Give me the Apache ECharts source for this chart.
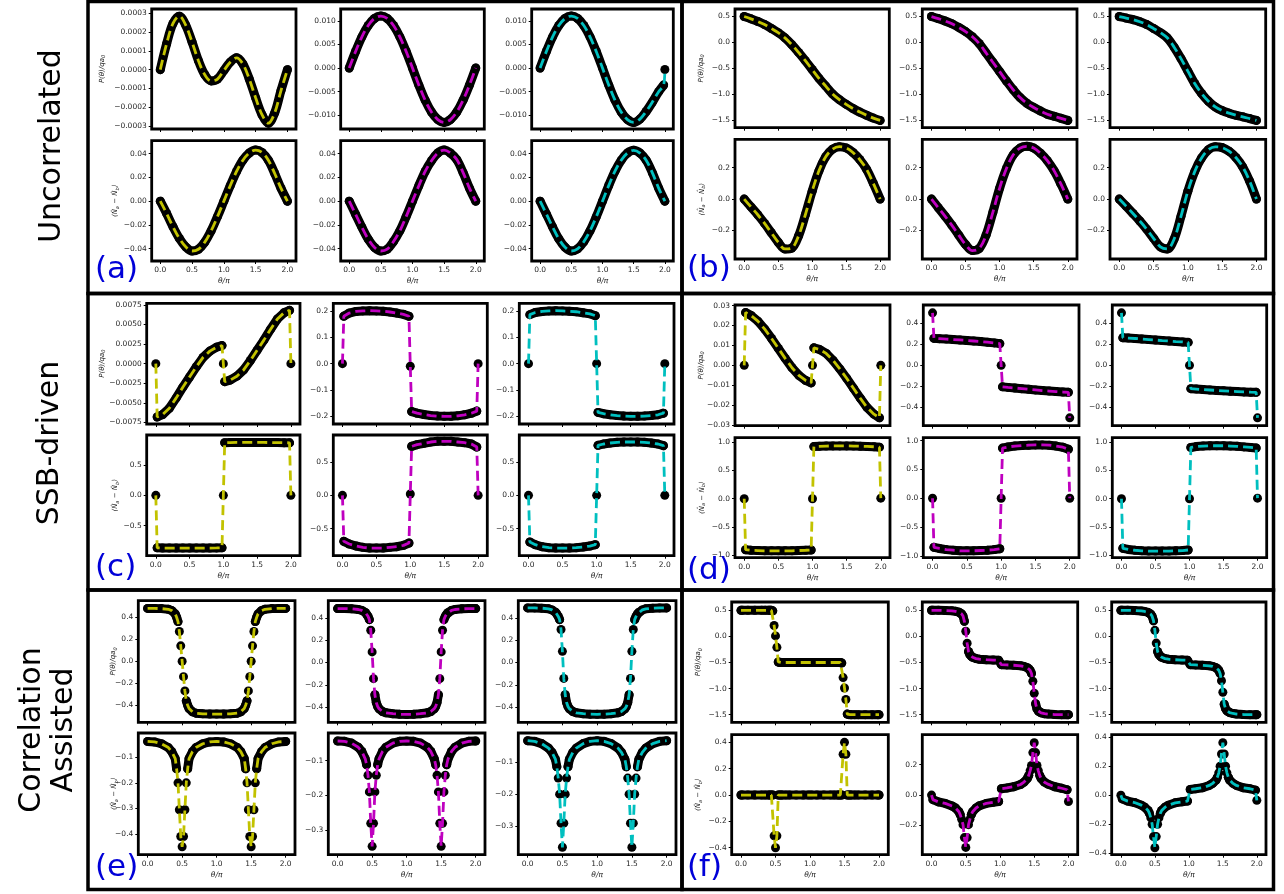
<!DOCTYPE html>
<html><head><meta charset="utf-8">
<script src="https://cdn.jsdelivr.net/npm/echarts@6/dist/echarts.min.js"></script>
<style>html,body{margin:0;padding:0;background:#fff}#c{width:1284px;height:894px}</style>
</head><body><div id="c"></div>
<script>
// ---------------- theta grids ----------------
const TH_S = [0,0.1,0.2,0.3,0.4,0.5,0.6,0.7,0.8,0.9,1,1.1,1.2,1.3,1.4,1.5,1.6,1.7,1.8,1.9,2];
const TH_A3P = [0,0.1,0.2,0.3,0.4,0.5,0.6,0.7,0.8,0.9,1,1.1,1.2,1.3,1.4,1.5,1.6,1.7,1.8,1.9,1.98,2];
const TH_J = [0,0.02,0.1,0.2,0.3,0.4,0.5,0.6,0.7,0.8,0.9,0.98,1,1.02,1.1,1.2,1.3,1.4,1.5,1.6,1.7,1.8,1.9,1.98,2];
const TH_E = [0,0.1,0.2,0.3,0.35,0.4,0.42,0.44,0.46,0.48,0.5,0.52,0.54,0.56,0.58,0.6,0.65,0.7,0.8,0.9,1,
              1.1,1.2,1.3,1.35,1.4,1.42,1.44,1.46,1.48,1.5,1.52,1.54,1.56,1.58,1.6,1.65,1.7,1.8,1.9,2];
const TH_F = [0,0.02,0.1,0.2,0.3,0.35,0.4,0.42,0.44,0.46,0.48,0.5,0.52,0.54,0.56,0.58,0.6,0.65,0.7,0.8,0.9,0.98,
              1.02,1.1,1.2,1.3,1.35,1.4,1.42,1.44,1.46,1.48,1.5,1.52,1.54,1.56,1.58,1.6,1.65,1.7,1.8,1.9,1.98,2];

// ---------------- (a) Uncorrelated, left ----------------
const A_P_Y = [0,0.000138,0.000246,0.000285,0.000237,0.000147,0.000048,-0.000027,-0.00006,-0.00005,-0.000005,0.00004,0.000063,0.00003,-0.00005,-0.00015,-0.00024,-0.000285,-0.00023,-0.00011,0];
const A_P_M = [0,0.0035,0.0066,0.009,0.0105,0.011,0.0105,0.009,0.0066,0.0035,0,-0.0036,-0.0068,-0.0093,-0.0109,-0.0115,-0.0109,-0.0093,-0.0068,-0.0036,0];
const A_P_C = [0,0.0035,0.0066,0.009,0.0105,0.011,0.0105,0.009,0.0066,0.0035,0,-0.0036,-0.0068,-0.0093,-0.0109,-0.0115,-0.0108,-0.0092,-0.0072,-0.005,-0.0036,-0.0003];
const A_N_Y = [0,-0.0104,-0.0216,-0.0314,-0.0385,-0.042,-0.0405,-0.0345,-0.025,-0.013,0,0.013,0.025,0.0345,0.0405,0.043,0.041,0.0345,0.0233,0.0107,0];
const A_N_M = [0,-0.011,-0.022,-0.032,-0.039,-0.042,-0.0405,-0.034,-0.025,-0.013,0,0.013,0.025,0.034,0.0405,0.043,0.0405,0.035,0.024,0.011,0];
const A_N_C = [0,-0.0108,-0.0218,-0.0318,-0.0388,-0.042,-0.0402,-0.0342,-0.025,-0.0132,0,0.0132,0.0252,0.0345,0.0405,0.0428,0.0405,0.0345,0.0238,0.011,0];

// ---------------- (b) Uncorrelated, right ----------------
const B_P_Y = [0.5,0.455,0.405,0.345,0.27,0.19,0.09,-0.04,-0.19,-0.35,-0.52,-0.69,-0.84,-0.99,-1.1,-1.19,-1.27,-1.34,-1.4,-1.455,-1.5];
const B_P_M = [0.5,0.46,0.415,0.36,0.29,0.21,0.11,-0.02,-0.2,-0.38,-0.56,-0.74,-0.91,-1.06,-1.17,-1.25,-1.32,-1.38,-1.42,-1.46,-1.5];
const B_P_C = [0.5,0.47,0.44,0.4,0.345,0.27,0.19,0.09,-0.09,-0.31,-0.55,-0.79,-0.98,-1.13,-1.24,-1.31,-1.36,-1.4,-1.43,-1.465,-1.5];
const B_N_Y = [0,-0.05,-0.1,-0.155,-0.215,-0.275,-0.318,-0.312,-0.235,-0.1,0.05,0.18,0.27,0.318,0.334,0.326,0.297,0.252,0.19,0.1,0];
const B_N_M = [0,-0.055,-0.11,-0.168,-0.23,-0.29,-0.328,-0.315,-0.23,-0.085,0.07,0.195,0.282,0.325,0.336,0.325,0.292,0.245,0.18,0.095,0];
const B_N_C = [0,-0.045,-0.092,-0.14,-0.192,-0.25,-0.305,-0.318,-0.255,-0.11,0.05,0.175,0.262,0.315,0.333,0.328,0.305,0.265,0.205,0.115,0];

// ---------------- (c) SSB-driven, left ----------------
const C_P_Y = [0,-0.0068,-0.0065,-0.0057,-0.0044,-0.003,-0.0017,-0.0004,0.0008,0.0016,0.0021,0.0023,0,-0.0023,-0.0021,-0.0016,-0.0008,0.0004,0.0017,0.003,0.0044,0.0057,0.0065,0.0068,0];
const C_P_M = [0,0.18,0.192,0.198,0.2,0.201,0.2,0.199,0.196,0.192,0.187,0.18,-0.01,-0.182,-0.188,-0.193,-0.197,-0.199,-0.2,-0.2,-0.198,-0.194,-0.188,-0.18,0];
const C_P_C = [0,0.186,0.194,0.198,0.2,0.201,0.2,0.199,0.197,0.193,0.189,0.182,0,-0.185,-0.19,-0.194,-0.197,-0.199,-0.2,-0.2,-0.199,-0.197,-0.194,-0.188,0];
const C_N_Y = [0,-0.865,-0.868,-0.87,-0.87,-0.87,-0.87,-0.87,-0.87,-0.869,-0.867,-0.865,0,0.868,0.87,0.872,0.872,0.872,0.872,0.872,0.871,0.87,0.868,0.866,0];
const C_N_M = [0,-0.69,-0.73,-0.76,-0.78,-0.79,-0.79,-0.79,-0.78,-0.77,-0.75,-0.715,0.02,0.735,0.76,0.78,0.8,0.81,0.81,0.81,0.8,0.79,0.77,0.725,0];
const C_N_C = [0,-0.7,-0.74,-0.77,-0.785,-0.79,-0.79,-0.79,-0.785,-0.775,-0.76,-0.74,0,0.75,0.77,0.785,0.795,0.8,0.8,0.8,0.795,0.785,0.77,0.745,0];

// ---------------- (d) SSB-driven, right ----------------
const D_P_Y = [0,0.0265,0.025,0.0222,0.0182,0.0135,0.0085,0.0035,-0.0012,-0.005,-0.0076,-0.0088,0,0.0088,0.008,0.006,0.0025,-0.0018,-0.0065,-0.0115,-0.0165,-0.0212,-0.0245,-0.0263,0];
const D_P_M = [0.5,0.257,0.254,0.25,0.246,0.242,0.237,0.232,0.227,0.221,0.214,0.207,0,-0.205,-0.21,-0.216,-0.222,-0.228,-0.234,-0.24,-0.245,-0.25,-0.254,-0.257,-0.5];
const D_P_C = [0.5,0.263,0.26,0.256,0.251,0.246,0.241,0.236,0.232,0.227,0.223,0.219,0,-0.222,-0.226,-0.231,-0.235,-0.239,-0.243,-0.247,-0.25,-0.253,-0.256,-0.257,-0.5];
const D_N_Y = [0,-0.905,-0.915,-0.92,-0.925,-0.925,-0.925,-0.925,-0.925,-0.92,-0.915,-0.91,0,0.925,0.93,0.935,0.937,0.937,0.937,0.935,0.932,0.928,0.922,0.915,0.01];
const D_N_M = [0,-0.85,-0.87,-0.89,-0.9,-0.91,-0.91,-0.91,-0.905,-0.9,-0.89,-0.875,0,0.87,0.89,0.905,0.915,0.92,0.925,0.925,0.92,0.905,0.885,0.85,0];
const D_N_C = [0,-0.88,-0.9,-0.915,-0.925,-0.93,-0.93,-0.93,-0.93,-0.925,-0.92,-0.91,0,0.91,0.925,0.935,0.94,0.94,0.94,0.935,0.93,0.92,0.91,0.9,0.01];

// ---------------- (e) Correlation assisted, left ----------------
const E_P_Y = [0.48,0.48,0.478,0.472,0.46,0.43,0.4,0.36,0.27,0.14,0,-0.14,-0.27,-0.36,-0.4,-0.43,-0.46,-0.472,-0.478,-0.48,-0.48,
               -0.48,-0.478,-0.472,-0.46,-0.43,-0.4,-0.36,-0.27,-0.14,0,0.14,0.27,0.36,0.4,0.43,0.46,0.472,0.478,0.48,0.48];
const E_P_M = [0.484,0.484,0.482,0.476,0.468,0.45,0.435,0.415,0.385,0.29,0.095,-0.145,-0.29,-0.36,-0.395,-0.415,-0.44,-0.452,-0.46,-0.465,-0.466,
               -0.465,-0.46,-0.452,-0.44,-0.415,-0.395,-0.36,-0.29,-0.145,0.095,0.29,0.385,0.415,0.435,0.45,0.468,0.476,0.482,0.484,0.484];
const E_P_C = [0.49,0.49,0.488,0.482,0.472,0.452,0.436,0.414,0.385,0.296,0.1,-0.143,-0.29,-0.36,-0.395,-0.415,-0.44,-0.452,-0.46,-0.464,-0.465,
               -0.464,-0.46,-0.452,-0.44,-0.415,-0.395,-0.36,-0.29,-0.143,0.1,0.296,0.385,0.414,0.436,0.452,0.472,0.482,0.488,0.49,0.49];
const E_N_Y = [-0.038,-0.04,-0.047,-0.062,-0.078,-0.105,-0.145,-0.2,-0.305,-0.41,-0.45,-0.41,-0.305,-0.2,-0.145,-0.105,-0.078,-0.062,-0.047,-0.04,-0.038,
               -0.04,-0.047,-0.062,-0.078,-0.105,-0.145,-0.2,-0.305,-0.41,-0.45,-0.41,-0.305,-0.2,-0.145,-0.105,-0.078,-0.062,-0.047,-0.04,-0.038];
const E_N_M = [-0.044,-0.045,-0.05,-0.062,-0.074,-0.095,-0.112,-0.142,-0.19,-0.28,-0.346,-0.28,-0.19,-0.142,-0.112,-0.095,-0.074,-0.062,-0.05,-0.045,-0.044,
               -0.045,-0.05,-0.062,-0.074,-0.095,-0.112,-0.142,-0.19,-0.28,-0.346,-0.28,-0.19,-0.142,-0.112,-0.095,-0.074,-0.062,-0.05,-0.045,-0.044];
const E_N_C = [-0.034,-0.036,-0.043,-0.057,-0.07,-0.092,-0.115,-0.15,-0.2,-0.29,-0.365,-0.29,-0.2,-0.15,-0.115,-0.092,-0.07,-0.057,-0.043,-0.036,-0.034,
               -0.036,-0.043,-0.057,-0.07,-0.092,-0.115,-0.15,-0.2,-0.29,-0.365,-0.29,-0.2,-0.15,-0.115,-0.092,-0.07,-0.057,-0.043,-0.036,-0.034];

// ---------------- (f) Correlation assisted, right ----------------
const F_P_Y = [0.5,0.5,0.5,0.5,0.5,0.5,0.5,0.5,0.5,0.49,0.21,0.01,-0.21,-0.49,-0.5,-0.5,-0.5,-0.5,-0.5,-0.5,-0.5,-0.5,
               -0.5,-0.5,-0.5,-0.5,-0.5,-0.5,-0.5,-0.5,-0.51,-0.79,-0.99,-1.21,-1.49,-1.5,-1.5,-1.5,-1.5,-1.5,-1.5,-1.5,-1.5,-1.5];
const F_P_M = [0.5,0.5,0.5,0.498,0.49,0.482,0.465,0.45,0.43,0.39,0.29,0.1,-0.13,-0.29,-0.35,-0.38,-0.4,-0.425,-0.437,-0.447,-0.453,-0.458,
               -0.542,-0.547,-0.553,-0.563,-0.575,-0.6,-0.62,-0.65,-0.71,-0.86,-1.09,-1.29,-1.39,-1.43,-1.45,-1.465,-1.482,-1.49,-1.498,-1.5,-1.5,-1.5];
const F_P_C = [0.5,0.5,0.5,0.497,0.488,0.478,0.46,0.445,0.425,0.385,0.3,0.117,-0.128,-0.29,-0.35,-0.38,-0.4,-0.425,-0.437,-0.447,-0.453,-0.458,
               -0.542,-0.547,-0.553,-0.563,-0.575,-0.6,-0.62,-0.65,-0.71,-0.85,-1.07,-1.3,-1.385,-1.425,-1.445,-1.46,-1.478,-1.488,-1.497,-1.5,-1.5,-1.5];
const F_N_Y = [0,0,0,0,0,0,0,0,0,0,-0.31,-0.4,-0.31,0,0,0,0,0,0,0,0,0,
               0,0,0,0,0,0,0,0,0,0.31,0.4,0.31,0,0,0,0,0,0,0,0,0,0];
const F_N_M = [0,-0.03,-0.045,-0.055,-0.072,-0.085,-0.11,-0.13,-0.16,-0.195,-0.28,-0.345,-0.28,-0.195,-0.16,-0.13,-0.11,-0.085,-0.07,-0.055,-0.047,-0.042,
               0.042,0.047,0.055,0.07,0.085,0.11,0.13,0.16,0.195,0.28,0.345,0.28,0.195,0.16,0.13,0.11,0.085,0.072,0.055,0.045,0.035,-0.042];
const F_N_C = [0,-0.025,-0.04,-0.05,-0.068,-0.082,-0.105,-0.125,-0.155,-0.2,-0.285,-0.362,-0.285,-0.2,-0.155,-0.125,-0.105,-0.082,-0.068,-0.052,-0.045,-0.04,
               0.04,0.045,0.052,0.068,0.082,0.105,0.125,0.155,0.2,0.285,0.363,0.285,0.2,0.155,0.125,0.105,0.082,0.068,0.052,0.045,0.035,-0.035];

// ---------------- ticks ----------------
const X_TICKS = [0,0.5,1,1.5,2];
const YT_A_P1 = [-0.0003,-0.0002,-0.0001,0,0.0001,0.0002,0.0003];
const YT_A_P2 = [-0.01,-0.005,0,0.005,0.01];
const YT_A_N  = [-0.04,-0.02,0,0.02,0.04];
const YT_B_P  = [-1.5,-1,-0.5,0,0.5];
const YT_B_N  = [-0.2,0,0.2];
const YT_C_P1 = [-0.0075,-0.005,-0.0025,0,0.0025,0.005,0.0075];
const YT_C_P2 = [-0.2,-0.1,0,0.1,0.2];
const YT_C_N  = [-0.5,0,0.5];
const YT_D_P1 = [-0.03,-0.02,-0.01,0,0.01,0.02,0.03];
const YT_D_P2 = [-0.4,-0.2,0,0.2,0.4];
const YT_D_N  = [-1,-0.5,0,0.5,1];
const YT_E_P  = [-0.4,-0.2,0,0.2,0.4];
const YT_E_N1 = [-0.4,-0.3,-0.2,-0.1];
const YT_E_N2 = [-0.3,-0.2,-0.1];
const YT_F_P  = [-1.5,-1,-0.5,0,0.5];
const YT_F_N1 = [-0.4,-0.2,0,0.2,0.4];
const YT_F_N2 = [-0.2,0,0.2];

// ---------------- layout / style (not data) ----------------
const COL = {y:'#c2c200', m:'#bf00bf', c:'#00bfbf'};
const X_MIN = -0.135, X_MAX = 2.135;
const LAYOUT = {
  a:{cols:[[151.7,296],[340.7,484.3],[531.7,673.3]], rows:[[9,129],[140.7,261]], pName:101.7, nName:115},
  b:{cols:[[735,889.3],[922.3,1077],[1110,1265.7]], rows:[[9,127.7],[139.3,259]], pName:700.7, nName:701.7},
  c:{cols:[[146.7,300],[333.3,487.3],[519.3,674]], rows:[[303.3,424],[435,555.7]], pName:101.7, nName:115},
  d:{cols:[[735,890],[923.3,1079],[1112.3,1266.7]], rows:[[305,425.7],[437.7,557.7]], pName:700.7, nName:701.7},
  e:{cols:[[138.3,295],[328.3,485],[518.3,676]], rows:[[600.7,722.3],[733,854.7]], pName:113, nName:114},
  f:{cols:[[731.7,888.3],[922.3,1077.7],[1111.7,1266]], rows:[[602,722.3],[734.7,854.7]], pName:698, nName:698}
};
const BAND_ALL = [[0,2]];
const BAND_J = [[0.02,0.98],[1.02,1.98]];
const SUBPLOTS = [
  {p:'a',r:0,c:0,th:TH_S,v:A_P_Y,k:'y',lim:[-0.000316,0.000323],t:YT_A_P1,d:4,b:BAND_ALL,sm:true},
  {p:'a',r:0,c:1,th:TH_S,v:A_P_M,k:'m',lim:[-0.0129,0.0125],t:YT_A_P2,d:3,b:BAND_ALL,sm:true},
  {p:'a',r:0,c:2,th:TH_A3P,v:A_P_C,k:'c',lim:[-0.0129,0.0125],t:YT_A_P2,d:3,b:[[0,1.98]],sm:true},
  {p:'a',r:1,c:0,th:TH_S,v:A_N_Y,k:'y',lim:[-0.0504,0.0509],t:YT_A_N,d:2,b:BAND_ALL,sm:true},
  {p:'a',r:1,c:1,th:TH_S,v:A_N_M,k:'m',lim:[-0.0504,0.0509],t:YT_A_N,d:2,b:BAND_ALL,sm:true},
  {p:'a',r:1,c:2,th:TH_S,v:A_N_C,k:'c',lim:[-0.0504,0.0509],t:YT_A_N,d:2,b:BAND_ALL,sm:true},

  {p:'b',r:0,c:0,th:TH_S,v:B_P_Y,k:'y',lim:[-1.64,0.645],t:YT_B_P,d:1,b:BAND_ALL,sm:true},
  {p:'b',r:0,c:1,th:TH_S,v:B_P_M,k:'m',lim:[-1.64,0.645],t:YT_B_P,d:1,b:BAND_ALL,sm:true},
  {p:'b',r:0,c:2,th:TH_S,v:B_P_C,k:'c',lim:[-1.64,0.645],t:YT_B_P,d:1,b:BAND_ALL,sm:true},
  {p:'b',r:1,c:0,th:TH_S,v:B_N_Y,k:'y',lim:[-0.382,0.381],t:YT_B_N,d:1,b:BAND_ALL,sm:true},
  {p:'b',r:1,c:1,th:TH_S,v:B_N_M,k:'m',lim:[-0.382,0.381],t:YT_B_N,d:1,b:BAND_ALL,sm:true},
  {p:'b',r:1,c:2,th:TH_S,v:B_N_C,k:'c',lim:[-0.382,0.381],t:YT_B_N,d:1,b:BAND_ALL,sm:true},

  {p:'c',r:0,c:0,th:TH_J,v:C_P_Y,k:'y',lim:[-0.0077,0.0077],t:YT_C_P1,d:4,b:BAND_J},
  {p:'c',r:0,c:1,th:TH_J,v:C_P_M,k:'m',lim:[-0.229,0.229],t:YT_C_P2,d:1,b:BAND_J},
  {p:'c',r:0,c:2,th:TH_J,v:C_P_C,k:'c',lim:[-0.229,0.229],t:YT_C_P2,d:1,b:BAND_J},
  {p:'c',r:1,c:0,th:TH_J,v:C_N_Y,k:'y',lim:[-0.995,0.995],t:YT_C_N,d:1,b:BAND_J},
  {p:'c',r:1,c:1,th:TH_J,v:C_N_M,k:'m',lim:[-0.905,0.905],t:YT_C_N,d:1,b:BAND_J},
  {p:'c',r:1,c:2,th:TH_J,v:C_N_C,k:'c',lim:[-0.905,0.905],t:YT_C_N,d:1,b:BAND_J},

  {p:'d',r:0,c:0,th:TH_J,v:D_P_Y,k:'y',lim:[-0.0303,0.0303],t:YT_D_P1,d:2,b:BAND_J},
  {p:'d',r:0,c:1,th:TH_J,v:D_P_M,k:'m',lim:[-0.575,0.575],t:YT_D_P2,d:1,b:BAND_J},
  {p:'d',r:0,c:2,th:TH_J,v:D_P_C,k:'c',lim:[-0.575,0.575],t:YT_D_P2,d:1,b:BAND_J},
  {p:'d',r:1,c:0,th:TH_J,v:D_N_Y,k:'y',lim:[-1.047,1.083],t:YT_D_N,d:1,b:BAND_J},
  {p:'d',r:1,c:1,th:TH_J,v:D_N_M,k:'m',lim:[-1.03,1.05],t:YT_D_N,d:1,b:BAND_J},
  {p:'d',r:1,c:2,th:TH_J,v:D_N_C,k:'c',lim:[-1.047,1.083],t:YT_D_N,d:1,b:BAND_J},

  {p:'e',r:0,c:0,th:TH_E,v:E_P_Y,k:'y',lim:[-0.555,0.55],t:YT_E_P,d:1,b:[[0,0.44],[0.56,1.44],[1.56,2]]},
  {p:'e',r:0,c:1,th:TH_E,v:E_P_M,k:'m',lim:[-0.537,0.555],t:YT_E_P,d:1,b:[[0,0.46],[0.54,1.46],[1.54,2]]},
  {p:'e',r:0,c:2,th:TH_E,v:E_P_C,k:'c',lim:[-0.537,0.555],t:YT_E_P,d:1,b:[[0,0.46],[0.54,1.46],[1.54,2]]},
  {p:'e',r:1,c:0,th:TH_E,v:E_N_Y,k:'y',lim:[-0.481,-0.005],t:YT_E_N1,d:1,b:[[0,0.42],[0.58,1.42],[1.58,2]]},
  {p:'e',r:1,c:1,th:TH_E,v:E_N_M,k:'m',lim:[-0.37,-0.021],t:YT_E_N2,d:1,b:[[0,0.42],[0.58,1.42],[1.58,2]]},
  {p:'e',r:1,c:2,th:TH_E,v:E_N_C,k:'c',lim:[-0.388,-0.01],t:YT_E_N2,d:1,b:[[0,0.42],[0.58,1.42],[1.58,2]]},

  {p:'f',r:0,c:0,th:TH_F,v:F_P_Y,k:'y',lim:[-1.647,0.66],t:YT_F_P,d:1,b:[[0,0.46],[0.54,1.46],[1.54,2]]},
  {p:'f',r:0,c:1,th:TH_F,v:F_P_M,k:'m',lim:[-1.647,0.66],t:YT_F_P,d:1,b:[[0,0.48],[0.54,1.46],[1.52,2]]},
  {p:'f',r:0,c:2,th:TH_F,v:F_P_C,k:'c',lim:[-1.647,0.66],t:YT_F_P,d:1,b:[[0,0.48],[0.54,1.46],[1.52,2]]},
  {p:'f',r:1,c:0,th:TH_F,v:F_N_Y,k:'y',lim:[-0.453,0.458],t:YT_F_N1,d:1,b:[[0,0.46],[0.54,1.46],[1.54,2]]},
  {p:'f',r:1,c:1,th:TH_F,v:F_N_M,k:'m',lim:[-0.393,0.398],t:YT_F_N2,d:1,b:[[0.02,0.42],[0.58,0.98],[1.02,1.42],[1.58,1.98]]},
  {p:'f',r:1,c:2,th:TH_F,v:F_N_C,k:'c',lim:[-0.41,0.418],t:YT_F_N1,d:1,b:[[0.02,0.42],[0.58,0.98],[1.02,1.42],[1.58,1.98]]}
];

const FONT = 'DejaVu Sans';
const TICK_COLOR = '#262626';
function fmt(d){ return v => (v < -1e-12 ? '\u2212' : '') + Math.abs(v).toFixed(d); }

const grids = [], xAxes = [], yAxes = [], series = [], graphics = [];
SUBPLOTS.forEach((s, i) => {
  const L = LAYOUT[s.p];
  const [x0, x1] = L.cols[s.c], [y0, y1] = L.rows[s.r];
  grids.push({left:x0, top:y0, width:x1-x0, height:y1-y0, show:true, borderColor:'#000', borderWidth:2.8, backgroundColor:'#fff'});
  xAxes.push({
    type:'value', gridIndex:i, min:X_MIN, max:X_MAX,
    axisLine:{show:false, onZero:false}, splitLine:{show:false},
    axisTick:{show:true, inside:false, length:3, customValues:X_TICKS, lineStyle:{color:'#000', width:1}},
    axisLabel:{show:s.r===1, customValues:X_TICKS, formatter:fmt(1), fontSize:7.5, color:TICK_COLOR, margin:5, fontFamily:FONT}
  });
  yAxes.push({
    type:'value', gridIndex:i, min:s.lim[0], max:s.lim[1],
    axisLine:{show:false, onZero:false}, splitLine:{show:false},
    axisTick:{show:true, inside:false, length:3, customValues:s.t, lineStyle:{color:'#000', width:1}},
    axisLabel:{show:true, customValues:s.t, formatter:fmt(s.d), fontSize:7.5, color:TICK_COLOR, margin:5, fontFamily:FONT}
  });
  const pts = s.th.map((x, j) => [x, s.v[j]]);
  const sm = s.sm ? 0.35 : false;
  s.b.forEach(([b0, b1]) => {
    const seg = pts.filter(p => p[0] >= b0 - 1e-9 && p[0] <= b1 + 1e-9);
    series.push({type:'line', xAxisIndex:i, yAxisIndex:i, data:seg, symbol:'none', smooth:sm, silent:true,
      lineStyle:{color:'#000', width:9, cap:'round', join:'round', opacity:1}, z:2});
  });
  series.push({type:'scatter', xAxisIndex:i, yAxisIndex:i, data:pts, symbol:'circle', symbolSize:9, silent:true,
    itemStyle:{color:'#000', opacity:1}, z:3});
  series.push({type:'line', xAxisIndex:i, yAxisIndex:i, data:pts, symbol:'none', smooth:sm, silent:true,
    lineStyle:{color:COL[s.k], width:2.8, type:[10,5], opacity:1}, z:4});
});

// axis names
const rich = {s:{fontSize:5, fontStyle:'italic', fontFamily:FONT, verticalAlign:'bottom', lineHeight:10, fill:'#222'}};
Object.keys(LAYOUT).forEach(key => {
  const L = LAYOUT[key];
  const r0 = L.rows[0], r1 = L.rows[1];
  graphics.push({type:'text', x:L.pName, y:(r0[0]+r0[1])/2, rotation:Math.PI/2, z:10,
    style:{text:'P(\u03b8)/qa{s|0}', rich:rich, fill:'#222', fontSize:7, fontStyle:'italic', fontFamily:FONT, align:'center', verticalAlign:'middle', lineHeight:10}});
  graphics.push({type:'text', x:L.nName, y:(r1[0]+r1[1])/2, rotation:Math.PI/2, z:10,
    style:{text:'\u27e8N\u0302{s|a} \u2212 N\u0302{s|b}\u27e9', rich:rich, fill:'#222', fontSize:7, fontStyle:'italic', fontFamily:FONT, align:'center', verticalAlign:'middle', lineHeight:10}});
  L.cols.forEach(c => {
    graphics.push({type:'text', x:(c[0]+c[1])/2, y:r1[1]+20, z:10,
      style:{text:'\u03b8/\u03c0', fill:'#222', fontSize:7.5, fontStyle:'italic', fontFamily:FONT, align:'center', verticalAlign:'middle'}});
  });
});

// panel frames
const FRAMES = [[88,1.5,682,293.5],[682,1.5,1273.5,293.5],[88,293.5,682,590],[682,293.5,1273.5,590],[88,590,682,889.5],[682,590,1273.5,889.5]];
FRAMES.forEach(f => graphics.push({type:'rect', z:20, shape:{x:f[0], y:f[1], width:f[2]-f[0], height:f[3]-f[1]},
  style:{fill:'none', stroke:'#000', lineWidth:3.5}}));

// row labels
[['Uncorrelated',52,146],['SSB-driven',50,443],['Correlation\nAssisted',48,730]].forEach(t => {
  graphics.push({type:'text', x:t[1], y:t[2], rotation:Math.PI/2, z:10,
    style:{text:t[0], fill:'#000', fontSize:30, fontFamily:FONT, align:'center', verticalAlign:'middle', lineHeight:32}});
});
// panel letters
[['(a)',95,270],['(b)',687,269],['(c)',95,568],['(d)',687,571],['(e)',95,868],['(f)',687,868]].forEach(t => {
  graphics.push({type:'text', x:t[1], y:t[2], z:10,
    style:{text:t[0], fill:'#0000d8', fontSize:31, fontFamily:FONT, align:'left', verticalAlign:'middle'}});
});

const chart = echarts.init(document.getElementById('c'), null, {renderer:'canvas'});
chart.setOption({
  animation:false,
  backgroundColor:'#fff',
  textStyle:{fontFamily:FONT},
  grid:grids, xAxis:xAxes, yAxis:yAxes, series:series, graphic:graphics
});
</script></body></html>
